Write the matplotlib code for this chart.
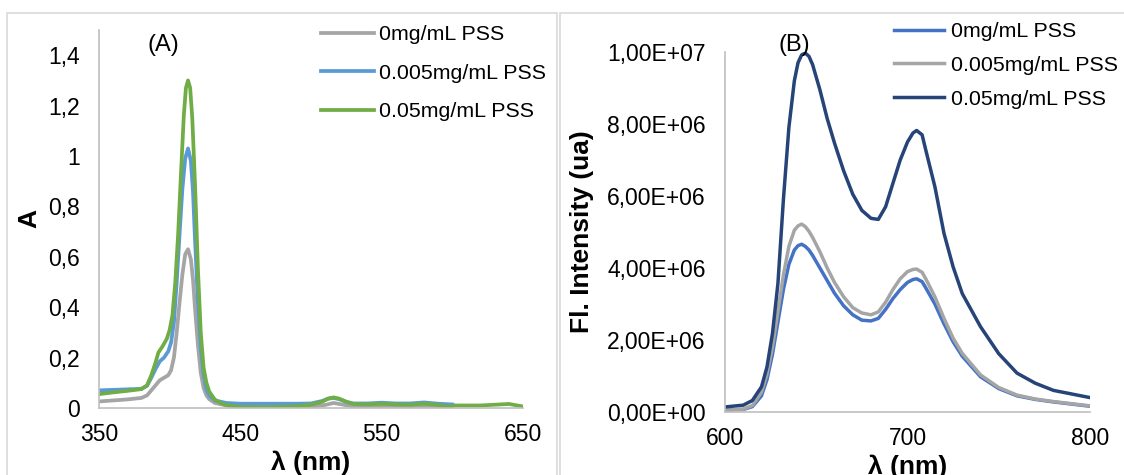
import matplotlib.pyplot as plt
from matplotlib.patches import Rectangle

plt.rcParams['font.family'] = ['Liberation Sans', 'DejaVu Sans']

# ---------- (A) absorbance ----------
wl_0 = [350, 360, 370, 380, 384, 387, 390, 393, 396, 399, 401, 403, 405, 407, 409, 411, 413,
        415, 416.5, 418, 420, 422, 424, 426, 428, 432, 440, 450, 470, 500, 510, 516, 522,
        530, 550, 580, 600]
abs_0 = [0.026, 0.03, 0.034, 0.04, 0.05, 0.07, 0.09, 0.11, 0.12, 0.13, 0.15, 0.20, 0.30,
         0.42, 0.53, 0.61, 0.63, 0.59, 0.51, 0.39, 0.25, 0.14, 0.08, 0.05, 0.035, 0.02, 0.01,
         0.005, 0.004, 0.005, 0.012, 0.02, 0.014, 0.006, 0.006, 0.005, 0.003]

wl_005 = [350, 360, 370, 380, 384, 387, 390, 393, 396, 399, 401, 403, 405, 407, 409, 411,
          413, 415, 416.5, 418, 420, 422, 424, 426, 428, 432, 440, 450, 470, 490, 500, 508,
          512, 516, 520, 525, 530, 540, 550, 560, 570, 580, 590, 600]
abs_005 = [0.07, 0.072, 0.074, 0.076, 0.088, 0.12, 0.155, 0.185, 0.2, 0.225, 0.26, 0.34,
           0.50, 0.69, 0.87, 0.99, 1.03, 0.98, 0.86, 0.66, 0.42, 0.24, 0.13, 0.075, 0.05,
           0.03, 0.02, 0.017, 0.017, 0.017, 0.018, 0.028, 0.037, 0.04, 0.035, 0.024, 0.018,
           0.018, 0.021, 0.018, 0.018, 0.022, 0.017, 0.014]

wl_05 = [350, 360, 370, 380, 384, 387, 390, 392, 395, 398, 400, 402, 404, 406, 408, 410,
         411.5, 413, 414.5, 416, 418, 420, 422, 424, 426, 428, 432, 436, 440, 450, 470, 490,
         500, 508, 512, 516, 520, 525, 530, 540, 550, 560, 570, 580, 590, 598, 600, 620,
         640, 650]
abs_05 = [0.055, 0.062, 0.068, 0.075, 0.09, 0.13, 0.18, 0.22, 0.245, 0.275, 0.31, 0.37,
          0.50, 0.69, 0.93, 1.16, 1.27, 1.30, 1.27, 1.15, 0.88, 0.55, 0.30, 0.16, 0.10,
          0.065, 0.033, 0.02, 0.012, 0.004, 0.003, 0.007, 0.013, 0.025, 0.037, 0.042, 0.037,
          0.025, 0.016, 0.014, 0.017, 0.014, 0.013, 0.017, 0.012, 0.004, 0.01, 0.01, 0.016,
          0.006]

# ---------- (B) fluorescence (x 1e6) ----------
wl_b = [600, 610, 615, 620, 623, 626, 629, 632, 635, 638, 640, 642, 644, 646, 648, 652,
        656, 660, 665, 670, 675, 680, 684, 688, 692, 696, 700, 703, 705, 708, 710, 715,
        720, 725, 730, 740, 750, 760, 770, 780, 790, 800]
fl_0 = [0.05, 0.07, 0.15, 0.45, 0.9, 1.6, 2.5, 3.4, 4.1, 4.5, 4.62, 4.66, 4.6, 4.5, 4.35,
        4.0, 3.65, 3.3, 2.95, 2.7, 2.55, 2.53, 2.6, 2.85, 3.15, 3.4, 3.6, 3.68, 3.7, 3.62,
        3.45, 3.0, 2.45, 1.95, 1.55, 0.98, 0.65, 0.45, 0.35, 0.28, 0.22, 0.16]
fl_005 = [0.05, 0.08, 0.18, 0.55, 1.05, 1.8, 2.8, 3.8, 4.6, 5.05, 5.17, 5.22, 5.15, 5.02,
          4.85, 4.45, 4.0, 3.6, 3.2, 2.9, 2.75, 2.7, 2.78, 3.05, 3.4, 3.7, 3.9, 3.96, 3.97,
          3.88, 3.7, 3.2, 2.6, 2.05, 1.63, 1.03, 0.68, 0.47, 0.36, 0.29, 0.23, 0.17]
fl_05 = [0.14, 0.19, 0.32, 0.7, 1.25, 2.18, 3.57, 5.9, 7.9, 9.2, 9.7, 9.92, 9.97, 9.88,
         9.65, 8.95, 8.15, 7.47, 6.7, 6.05, 5.6, 5.38, 5.35, 5.7, 6.35, 7.0, 7.5, 7.75, 7.82,
         7.7, 7.28, 6.26, 4.96, 4.03, 3.29, 2.37, 1.62, 1.08, 0.8, 0.6, 0.5, 0.4]

labels = ['0mg/mL PSS', '0.005mg/mL PSS', '0.05mg/mL PSS']

W, H = 1124, 475
fig = plt.figure(figsize=(W / 100, H / 100), dpi=100)

# panel frames
fig.patches.append(Rectangle((7 / W, -0.1), 550 / W, 1.1 - 13 / H, transform=fig.transFigure,
                             fill=False, edgecolor='#D9D9D9', lw=1.2))
fig.patches.append(Rectangle((560 / W, -0.1), 600 / W, 1.1 - 13 / H, transform=fig.transFigure,
                             fill=False, edgecolor='#D9D9D9', lw=1.2))

grey_ax = '#BFBFBF'

# ---- A ----
ax1 = fig.add_axes([99 / W, (H - 408) / H, 424 / W, 378 / H])
ax1.plot(wl_0, abs_0, color='#A5A5A5', lw=2.7, label=labels[0])
ax1.plot(wl_005, abs_005, color='#5B9BD5', lw=2.7, label=labels[1])
ax1.plot(wl_05, abs_05, color='#70AD47', lw=2.7, label=labels[2])
ax1.set_xlim(350, 650)
ax1.set_ylim(0, 1.5)
ax1.set_xticks([350, 450, 550, 650])
ax1.set_yticks([0, 0.2, 0.4, 0.6, 0.8, 1.0, 1.2, 1.4])
ax1.set_yticklabels(['0', '0,2', '0,4', '0,6', '0,8', '1', '1,2', '1,4'])
ax1.set_xlabel('λ (nm)', fontsize=19, fontweight='bold', labelpad=3)
ax1.set_ylabel('A', fontsize=19, fontweight='bold', labelpad=5)
ax1.legend(loc='upper left', bbox_to_anchor=(321 / W, 1 - 25 / H), bbox_transform=fig.transFigure,
           frameon=False, fontsize=15.4, handlelength=2.5, handletextpad=0.23, labelspacing=0.92,
           borderaxespad=0, borderpad=0)
fig.text(163 / W, 1 - 45 / H, '(A)', ha='center', va='center', fontsize=17)

# ---- B ----
ax2 = fig.add_axes([725 / W, (H - 412) / H, 365 / W, 360 / H])
ax2.plot(wl_b, [v * 1e6 for v in fl_0], color='#4472C4', lw=2.5, label=labels[0])
ax2.plot(wl_b, [v * 1e6 for v in fl_005], color='#A5A5A5', lw=2.5, label=labels[1])
ax2.plot(wl_b, [v * 1e6 for v in fl_05], color='#264478', lw=2.5, label=labels[2])
ax2.set_xlim(600, 800)
ax2.set_ylim(0, 1e7)
ax2.set_xticks([600, 700, 800])
ax2.set_yticks([0, 2e6, 4e6, 6e6, 8e6, 1e7])
ax2.set_yticklabels(['0,00E+00', '2,00E+06', '4,00E+06', '6,00E+06', '8,00E+06', '1,00E+07'])
ax2.set_xlabel('λ (nm)', fontsize=19, fontweight='bold', labelpad=3)
ax2.set_ylabel('Fl. Intensity (ua)', fontsize=19, fontweight='bold', labelpad=9)
ax2.legend(loc='upper left', bbox_to_anchor=(894 / W, 1 - 22 / H), bbox_transform=fig.transFigure,
           frameon=False, fontsize=15.4, handlelength=2.35, handletextpad=0.32, labelspacing=0.7,
           borderaxespad=0, borderpad=0)
fig.text(794 / W, 1 - 45 / H, '(B)', ha='center', va='center', fontsize=17)

for ax in (ax1, ax2):
    ax.spines['top'].set_visible(False)
    ax.spines['right'].set_visible(False)
    for s in ('left', 'bottom'):
        ax.spines[s].set_color(grey_ax)
        ax.spines[s].set_linewidth(1.2)
    ax.tick_params(axis='x', length=0, labelsize=16.5, pad=11)
    ax.tick_params(axis='y', length=0, labelsize=16.5, pad=14)
    ax.patch.set_visible(False)

fig.savefig('out.png', dpi=100)
